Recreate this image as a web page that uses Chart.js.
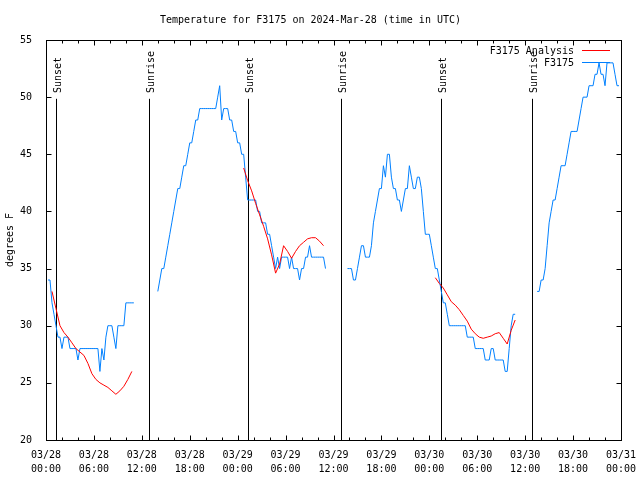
<!DOCTYPE html>
<html>
<head>
<meta charset="utf-8">
<title>F3175 temperature</title>
<script src="https://cdn.jsdelivr.net/npm/chart.js@4"></script>
<style>
  body { margin: 0; background: #fff; }
  #wrap { width: 640px; height: 480px; }
</style>
</head>
<body>
<div id="wrap"><canvas id="tempChart" width="640" height="480"></canvas></div>
<script>
// x values are hours after 03/28 00:00 UTC
const tickLabels = [
  ["03/28", "00:00"], ["03/28", "06:00"], ["03/28", "12:00"], ["03/28", "18:00"],
  ["03/29", "00:00"], ["03/29", "06:00"], ["03/29", "12:00"], ["03/29", "18:00"],
  ["03/30", "00:00"], ["03/30", "06:00"], ["03/30", "12:00"], ["03/30", "18:00"],
  ["03/31", "00:00"]
];
const sunNames = ["Sunset", "Sunrise", "Sunset", "Sunrise", "Sunset", "Sunrise"];
const sunHours = [1.3, 12.95, 25.35, 37.0, 49.4, 60.9];

// F3175 station obs, one value every 15 min, four runs with gaps between
const obsStart = [0.25, 14.0, 37.75, 61.5];
const obs1 = [34, 34, 32, 31, 30, 29, 29, 28, 29, 29, 29, 28, 28, 28, 28, 27, 28, 28, 28, 28,
  28, 28, 28, 28, 28, 28, 26, 28, 27, 29, 30, 30, 30, 29, 28, 30, 30, 30, 30, 32,
  32, 32, 32, 32];
const obs2 = [33, 34, 35, 35, 36, 37, 38, 39, 40, 41, 42, 42, 43, 44, 44, 45, 46, 46, 47, 48,
  48, 49, 49, 49, 49, 49, 49, 49, 49, 49, 50, 51, 48, 49, 49, 49, 48, 48, 47, 47,
  46, 46, 45, 45, 43, 41, 41, 41, 41, 41, 40, 40, 39, 39, 39, 38, 38, 37, 36, 35,
  36, 35, 36, 36, 36, 36, 35, 36, 35, 35, 35, 34, 35, 35, 36, 36, 37, 36, 36, 36,
  36, 36, 36, 36, 35];
const obs3 = [35, 35, 35, 34, 34, 35, 36, 37, 37, 36, 36, 36, 37, 39, 40, 41, 42, 42, 44, 43,
  45, 45, 43, 42, 42, 41, 41, 40, 41, 42, 42, 44, 43, 42, 42, 43, 43, 42, 40, 38,
  38, 38, 37, 36, 35, 35, 34, 33, 32, 32, 31, 30, 30, 30, 30, 30, 30, 30, 30, 30,
  29, 29, 29, 29, 28, 28, 28, 28, 28, 27, 27, 27, 28, 28, 27, 27, 27, 27, 27, 26,
  26, 28, 30, 31, 31];
const obs4 = [33, 33, 34, 34, 35, 37, 39, 40, 41, 41, 42, 43, 44, 44, 44, 45, 46, 47, 47, 47,
  47, 48, 49, 50, 50, 50, 51, 51, 51, 52, 52, 53, 52, 52, 51, 53, 53, 53, 53, 52,
  51, 51];

// F3175 analysis, one value every 30 min, three runs
const anaStart = [0.75, 24.75, 48.75];
const ana1 = [33.0, 31.5, 30.0, 29.4, 29.0, 28.5, 28.0, 27.7, 27.4, 26.7, 25.8, 25.3, 25.0,
  24.8, 24.6, 24.3, 24.0, 24.3, 24.7, 25.3, 26.0];
const ana2 = [43.8, 42.7, 41.8, 40.7, 39.7, 38.7, 37.6, 36.2, 34.6, 35.4, 37.0, 36.5, 35.9,
  36.5, 37.0, 37.3, 37.6, 37.7, 37.7, 37.4, 37.0];
const ana3 = [34.2, 33.7, 33.3, 32.7, 32.1, 31.8, 31.4, 30.9, 30.4, 29.7, 29.3, 29.0, 28.9,
  29.0, 29.1, 29.3, 29.4, 28.9, 28.4, 29.6, 30.5];

const MONO = "'DejaVu Sans Mono', 'Liberation Mono', monospace";

function toPoints(starts, runs, step) {
  const pts = [];
  runs.forEach((run, k) => {
    if (k > 0) pts.push({ x: starts[k] - step, y: null });
    run.forEach((v, i) => pts.push({ x: starts[k] + i * step, y: v }));
  });
  return pts;
}

// frame, inward ticks, sun lines and the legend, gnuplot style
const gnuplotBits = {
  id: "gnuplotBits",
  beforeDatasetsDraw(chart) {
    const { ctx, chartArea: a, scales } = chart;
    ctx.save();
    ctx.strokeStyle = "#000";
    ctx.lineWidth = 1;
    ctx.fillStyle = "#000";
    ctx.font = "10px " + MONO;
    const lineTop = a.bottom - 0.853 * (a.bottom - a.top);
    sunHours.forEach((h, i) => {
      const x = Math.round(scales.x.getPixelForValue(h)) + 0.5;
      ctx.beginPath();
      ctx.moveTo(x, lineTop);
      ctx.lineTo(x, a.bottom);
      ctx.stroke();
      ctx.save();
      ctx.translate(x + 4, 93);
      ctx.rotate(-Math.PI / 2);
      ctx.textAlign = "left";
      ctx.textBaseline = "alphabetic";
      ctx.fillText(sunNames[i], 0, 0);
      ctx.restore();
    });
    ctx.restore();
  },
  afterDraw(chart) {
    const { ctx, chartArea: a, scales } = chart;
    ctx.save();
    ctx.strokeStyle = "#000";
    ctx.lineWidth = 1;
    const L = Math.round(a.left) + 0.5, R = Math.round(a.right) + 0.5;
    const T = Math.round(a.top) + 0.5, B = Math.round(a.bottom) + 0.5;
    ctx.strokeRect(L, T, R - L, B - T);
    ctx.beginPath();
    for (let h = 0; h <= 72; h += 2) {
      const x = Math.round(scales.x.getPixelForValue(h)) + 0.5;
      const len = h % 6 === 0 ? 5 : 3;
      ctx.moveTo(x, B); ctx.lineTo(x, B - len);
      ctx.moveTo(x, T); ctx.lineTo(x, T + len);
    }
    for (let v = 20; v <= 55; v += 5) {
      const y = Math.round(scales.y.getPixelForValue(v)) + 0.5;
      ctx.moveTo(L, y); ctx.lineTo(L + 5, y);
      ctx.moveTo(R, y); ctx.lineTo(R - 5, y);
    }
    ctx.stroke();

    // legend
    ctx.font = "10px " + MONO;
    ctx.textAlign = "right";
    ctx.textBaseline = "middle";
    ctx.fillStyle = "#000";
    chart.data.datasets.forEach((ds, i) => {
      const y = 50 + i * 12;
      ctx.fillText(ds.label, 574, y + 1);
      ctx.strokeStyle = ds.borderColor;
      ctx.beginPath();
      ctx.moveTo(582, y + 0.5);
      ctx.lineTo(610, y + 0.5);
      ctx.stroke();
    });
    ctx.restore();
  }
};

new Chart(document.getElementById("tempChart"), {
  type: "line",
  data: {
    datasets: [
      {
        label: "F3175 Analysis",
        data: toPoints(anaStart, [ana1, ana2, ana3], 0.5),
        borderColor: "#ff0000",
        borderWidth: 1,
        pointRadius: 0,
        tension: 0,
        spanGaps: false
      },
      {
        label: "F3175",
        data: toPoints(obsStart, [obs1, obs2, obs3, obs4], 0.25),
        borderColor: "#0080ff",
        borderWidth: 1,
        pointRadius: 0,
        tension: 0,
        spanGaps: false
      }
    ]
  },
  options: {
    responsive: false,
    animation: false,
    devicePixelRatio: 1,
    layout: { padding: { right: 19, top: 0, left: 0, bottom: 0 } },
    plugins: {
      legend: { display: false },
      tooltip: { enabled: false },
      title: {
        display: true,
        text: "Temperature for F3175 on 2024-Mar-28 (time in UTC)",
        color: "#000",
        font: { family: MONO, size: 10, weight: "normal", lineHeight: 1.2 },
        padding: { top: 14, bottom: 14 }
      }
    },
    scales: {
      x: {
        type: "linear",
        min: 0,
        max: 72,
        grid: { display: false },
        border: { display: false },
        afterFit(scale) {
          scale.height = 40;
          scale.paddingLeft = 0;
          scale.paddingRight = 0;
        },
        ticks: {
          stepSize: 6,
          autoSkip: false,
          maxRotation: 0,
          padding: 0,
          color: "#000",
          font: { family: MONO, size: 10, lineHeight: 1.4 },
          callback: (v) => tickLabels[v / 6]
        }
      },
      y: {
        min: 20,
        max: 55,
        grid: { display: false },
        border: { display: false },
        afterFit(scale) { scale.width = 46; },
        title: {
          display: true,
          text: "degrees F",
          color: "#000",
          font: { family: MONO, size: 10 },
          padding: { top: 4, bottom: 0 }
        },
        ticks: {
          stepSize: 5,
          padding: 6,
          color: "#000",
          font: { family: MONO, size: 10 }
        }
      }
    }
  },
  plugins: [gnuplotBits]
});
</script>
</body>
</html>
